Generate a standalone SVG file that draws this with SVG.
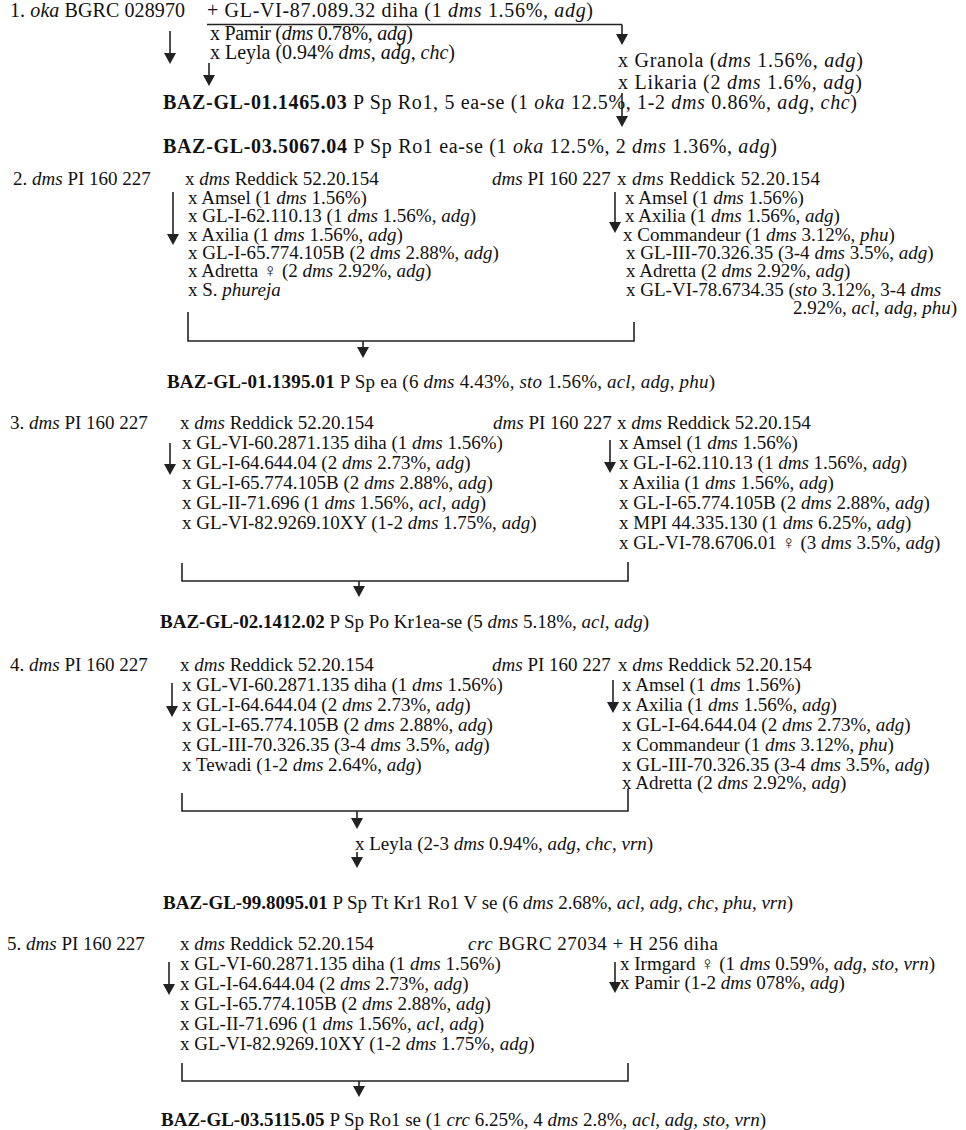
<svg xmlns="http://www.w3.org/2000/svg" width="966" height="1130" viewBox="0 0 966 1130">
<style>
.t{font-family:"Liberation Serif","DejaVu Serif",serif;font-size:19px;fill:#111}
.s1{font-size:20px}
.i{font-style:italic}
.b{font-weight:bold}
.c{stroke:#222;stroke-width:1.6;fill:none}
.a{stroke:#222;stroke-width:1.6;fill:none;marker-end:url(#ah)}
</style>
<defs>
<marker id="ah" markerUnits="userSpaceOnUse" markerWidth="12" markerHeight="12" viewBox="0 0 11 12" refX="1" refY="6" orient="auto"><path d="M0,0 L11,6 L0,12 z" fill="#222"/></marker>
</defs>
<rect width="966" height="1130" fill="#fff"/>
<g id="connectors">
<line class="c" x1="207" y1="24.5" x2="622" y2="24.5"/>
<line class="a" x1="622" y1="24.5" x2="622" y2="35"/>
<line class="a" x1="170" y1="31" x2="170" y2="54"/>
<line class="a" x1="209" y1="63" x2="209" y2="76"/>
<line class="a" x1="622" y1="93" x2="622" y2="117"/>
<line class="a" x1="173" y1="192" x2="173" y2="235"/>
<line class="a" x1="615" y1="192" x2="615" y2="223"/>
<polyline class="c" points="188,312 188,341 634,341 634,322"/>
<line class="a" x1="363" y1="341" x2="363" y2="348"/>
<line class="a" x1="170" y1="443" x2="170" y2="465"/>
<line class="a" x1="610" y1="440" x2="610" y2="463"/>
<polyline class="c" points="182,563 182,581 628,581 628,562"/>
<line class="a" x1="359" y1="581" x2="359" y2="587"/>
<line class="a" x1="172" y1="683" x2="172" y2="707"/>
<line class="a" x1="613" y1="680" x2="613" y2="703"/>
<polyline class="c" points="182,793 182,811 628,811 628,789"/>
<line class="a" x1="357" y1="811" x2="357" y2="819"/>
<line class="a" x1="357" y1="852" x2="357" y2="858"/>
<line class="a" x1="169" y1="962" x2="169" y2="985"/>
<line class="a" x1="615" y1="962" x2="615" y2="983"/>
<polyline class="c" points="182,1063 182,1081 628,1081 628,1063"/>
<line class="a" x1="359" y1="1081" x2="359" y2="1087"/>
</g>

<g id="s1-parent1"><text class="t s1" x="10" y="17" textLength="175">1. <tspan class="i">oka</tspan> BGRC 028970</text></g>
<g id="s1-parent2"><text class="t s1" x="207" y="17" textLength="386">+ GL-VI-87.089.32 diha (1 <tspan class="i">dms</tspan> 1.56%, <tspan class="i">adg</tspan>)</text></g>
<g id="s1-left">
<text class="t s1" x="210" y="40" textLength="203">x Pamir (<tspan class="i">dms</tspan> 0.78%, <tspan class="i">adg</tspan>)</text>
<text class="t s1" x="210" y="59" textLength="245">x Leyla (0.94% <tspan class="i">dms</tspan>, <tspan class="i">adg</tspan>, <tspan class="i">chc</tspan>)</text>
</g>
<g id="s1-right">
<text class="t s1" x="618" y="67" textLength="245">x Granola (<tspan class="i">dms</tspan> 1.56%, <tspan class="i">adg</tspan>)</text>
<text class="t s1" x="618" y="89" textLength="244">x Likaria (2 <tspan class="i">dms</tspan> 1.6%, <tspan class="i">adg</tspan>)</text>
</g>
<g id="s1-result1"><text class="t s1" x="163" y="109" textLength="694"><tspan class="b">BAZ-GL-01.1465.03</tspan> P Sp Ro1, 5 ea-se (1 <tspan class="i">oka</tspan> 12.5%, 1-2 <tspan class="i">dms</tspan> 0.86%, <tspan class="i">adg</tspan>, <tspan class="i">chc</tspan>)</text></g>
<g id="s1-result2"><text class="t s1" x="163" y="153" textLength="614"><tspan class="b">BAZ-GL-03.5067.04</tspan> P Sp Ro1 ea-se (1 <tspan class="i">oka</tspan> 12.5%, 2 <tspan class="i">dms</tspan> 1.36%, <tspan class="i">adg</tspan>)</text></g>

<g id="s2-left">
<text class="t" x="13" y="185">2. <tspan class="i">dms</tspan> PI 160 227</text>
<text class="t" x="185" y="185">x <tspan class="i">dms</tspan> Reddick 52.20.154</text>
<text class="t" x="188" y="204">x Amsel (1 <tspan class="i">dms</tspan> 1.56%)</text>
<text class="t" x="188" y="222">x GL-I-62.110.13 (1 <tspan class="i">dms</tspan> 1.56%, <tspan class="i">adg</tspan>)</text>
<text class="t" x="188" y="241">x Axilia (1 <tspan class="i">dms</tspan> 1.56%, <tspan class="i">adg</tspan>)</text>
<text class="t" x="188" y="259">x GL-I-65.774.105B (2 <tspan class="i">dms</tspan> 2.88%, <tspan class="i">adg</tspan>)</text>
<text class="t" x="188" y="277">x Adretta ♀ (2 <tspan class="i">dms</tspan> 2.92%, <tspan class="i">adg</tspan>)</text>
<text class="t" x="188" y="296">x S. <tspan class="i">phureja</tspan></text>
</g>
<g id="s2-right">
<text class="t" x="492" y="185"><tspan class="i">dms</tspan> PI 160 227</text>
<text class="t" x="617" y="185" textLength="203">x <tspan class="i">dms</tspan> Reddick 52.20.154</text>
<text class="t" x="625" y="204">x Amsel (1 <tspan class="i">dms</tspan> 1.56%)</text>
<text class="t" x="625" y="222">x Axilia (1 <tspan class="i">dms</tspan> 1.56%, <tspan class="i">adg</tspan>)</text>
<text class="t" x="623" y="241">x Commandeur (1 <tspan class="i">dms</tspan> 3.12%, <tspan class="i">phu</tspan>)</text>
<text class="t" x="626" y="259">x GL-III-70.326.35 (3-4 <tspan class="i">dms</tspan> 3.5%, <tspan class="i">adg</tspan>)</text>
<text class="t" x="626" y="277">x Adretta (2 <tspan class="i">dms</tspan> 2.92%, <tspan class="i">adg</tspan>)</text>
<text class="t" x="626" y="296">x GL-VI-78.6734.35 (<tspan class="i">sto</tspan> 3.12%, 3-4 <tspan class="i">dms</tspan></text>
<text class="t" x="793" y="314">2.92%, <tspan class="i">acl</tspan>, <tspan class="i">adg</tspan>, <tspan class="i">phu</tspan>)</text>
</g>
<g id="s2-result"><text class="t" x="167" y="388" textLength="548"><tspan class="b">BAZ-GL-01.1395.01</tspan> P Sp ea (6 <tspan class="i">dms</tspan> 4.43%, <tspan class="i">sto</tspan> 1.56%, <tspan class="i">acl</tspan>, <tspan class="i">adg</tspan>, <tspan class="i">phu</tspan>)</text></g>

<g id="s3-left">
<text class="t" x="10" y="429">3. <tspan class="i">dms</tspan> PI 160 227</text>
<text class="t" x="180" y="429">x <tspan class="i">dms</tspan> Reddick 52.20.154</text>
<text class="t" x="182" y="449">x GL-VI-60.2871.135 diha (1 <tspan class="i">dms</tspan> 1.56%)</text>
<text class="t" x="182" y="469">x GL-I-64.644.04 (2 <tspan class="i">dms</tspan> 2.73%, <tspan class="i">adg</tspan>)</text>
<text class="t" x="182" y="489">x GL-I-65.774.105B (2 <tspan class="i">dms</tspan> 2.88%, <tspan class="i">adg</tspan>)</text>
<text class="t" x="182" y="509">x GL-II-71.696 (1 <tspan class="i">dms</tspan> 1.56%, <tspan class="i">acl</tspan>, <tspan class="i">adg</tspan>)</text>
<text class="t" x="182" y="529">x GL-VI-82.9269.10XY (1-2 <tspan class="i">dms</tspan> 1.75%, <tspan class="i">adg</tspan>)</text>
</g>
<g id="s3-right">
<text class="t" x="493" y="429"><tspan class="i">dms</tspan> PI 160 227</text>
<text class="t" x="617" y="429">x <tspan class="i">dms</tspan> Reddick 52.20.154</text>
<text class="t" x="619" y="449">x Amsel (1 <tspan class="i">dms</tspan> 1.56%)</text>
<text class="t" x="619" y="469">x GL-I-62.110.13 (1 <tspan class="i">dms</tspan> 1.56%, <tspan class="i">adg</tspan>)</text>
<text class="t" x="619" y="489">x Axilia (1 <tspan class="i">dms</tspan> 1.56%, <tspan class="i">adg</tspan>)</text>
<text class="t" x="619" y="509">x GL-I-65.774.105B (2 <tspan class="i">dms</tspan> 2.88%, <tspan class="i">adg</tspan>)</text>
<text class="t" x="619" y="529">x MPI 44.335.130 (1 <tspan class="i">dms</tspan> 6.25%, <tspan class="i">adg</tspan>)</text>
<text class="t" x="619" y="549">x GL-VI-78.6706.01 ♀ (3 <tspan class="i">dms</tspan> 3.5%, <tspan class="i">adg</tspan>)</text>
</g>
<g id="s3-result"><text class="t" x="160" y="628"><tspan class="b">BAZ-GL-02.1412.02</tspan> P Sp Po Kr1ea-se (5 <tspan class="i">dms</tspan> 5.18%, <tspan class="i">acl</tspan>, <tspan class="i">adg</tspan>)</text></g>

<g id="s4-left">
<text class="t" x="10" y="671">4. <tspan class="i">dms</tspan> PI 160 227</text>
<text class="t" x="180" y="671">x <tspan class="i">dms</tspan> Reddick 52.20.154</text>
<text class="t" x="182" y="691">x GL-VI-60.2871.135 diha (1 <tspan class="i">dms</tspan> 1.56%)</text>
<text class="t" x="182" y="711">x GL-I-64.644.04 (2 <tspan class="i">dms</tspan> 2.73%, <tspan class="i">adg</tspan>)</text>
<text class="t" x="182" y="731">x GL-I-65.774.105B (2 <tspan class="i">dms</tspan> 2.88%, <tspan class="i">adg</tspan>)</text>
<text class="t" x="182" y="751">x GL-III-70.326.35 (3-4 <tspan class="i">dms</tspan> 3.5%, <tspan class="i">adg</tspan>)</text>
<text class="t" x="182" y="771">x Tewadi (1-2 <tspan class="i">dms</tspan> 2.64%, <tspan class="i">adg</tspan>)</text>
</g>
<g id="s4-right">
<text class="t" x="492" y="671"><tspan class="i">dms</tspan> PI 160 227</text>
<text class="t" x="618" y="671">x <tspan class="i">dms</tspan> Reddick 52.20.154</text>
<text class="t" x="622" y="691">x Amsel (1 <tspan class="i">dms</tspan> 1.56%)</text>
<text class="t" x="622" y="711">x Axilia (1 <tspan class="i">dms</tspan> 1.56%, <tspan class="i">adg</tspan>)</text>
<text class="t" x="622" y="731">x GL-I-64.644.04 (2 <tspan class="i">dms</tspan> 2.73%, <tspan class="i">adg</tspan>)</text>
<text class="t" x="622" y="751">x Commandeur (1 <tspan class="i">dms</tspan> 3.12%, <tspan class="i">phu</tspan>)</text>
<text class="t" x="622" y="771">x GL-III-70.326.35 (3-4 <tspan class="i">dms</tspan> 3.5%, <tspan class="i">adg</tspan>)</text>
<text class="t" x="622" y="789">x Adretta (2 <tspan class="i">dms</tspan> 2.92%, <tspan class="i">adg</tspan>)</text>
</g>
<g id="s4-leyla"><text class="t" x="355" y="850">x Leyla (2-3 <tspan class="i">dms</tspan> 0.94%, <tspan class="i">adg</tspan>, <tspan class="i">chc</tspan>, <tspan class="i">vrn</tspan>)</text></g>
<g id="s4-result"><text class="t" x="163" y="909"><tspan class="b">BAZ-GL-99.8095.01</tspan> P Sp Tt Kr1 Ro1 V se (6 <tspan class="i">dms</tspan> 2.68%, <tspan class="i">acl</tspan>, <tspan class="i">adg</tspan>, <tspan class="i">chc</tspan>, <tspan class="i">phu</tspan>, <tspan class="i">vrn</tspan>)</text></g>

<g id="s5-left">
<text class="t" x="7" y="950">5. <tspan class="i">dms</tspan> PI 160 227</text>
<text class="t" x="180" y="950">x <tspan class="i">dms</tspan> Reddick 52.20.154</text>
<text class="t" x="180" y="970">x GL-VI-60.2871.135 diha (1 <tspan class="i">dms</tspan> 1.56%)</text>
<text class="t" x="180" y="990">x GL-I-64.644.04 (2 <tspan class="i">dms</tspan> 2.73%, <tspan class="i">adg</tspan>)</text>
<text class="t" x="180" y="1010">x GL-I-65.774.105B (2 <tspan class="i">dms</tspan> 2.88%, <tspan class="i">adg</tspan>)</text>
<text class="t" x="180" y="1030">x GL-II-71.696 (1 <tspan class="i">dms</tspan> 1.56%, <tspan class="i">acl</tspan>, <tspan class="i">adg</tspan>)</text>
<text class="t" x="180" y="1050">x GL-VI-82.9269.10XY (1-2 <tspan class="i">dms</tspan> 1.75%, <tspan class="i">adg</tspan>)</text>
</g>
<g id="s5-right">
<text class="t" x="468" y="950" textLength="250"><tspan class="i">crc</tspan> BGRC 27034 + H 256 diha</text>
<text class="t" x="620" y="970">x Irmgard ♀ (1 <tspan class="i">dms</tspan> 0.59%, <tspan class="i">adg</tspan>, <tspan class="i">sto</tspan>, <tspan class="i">vrn</tspan>)</text>
<text class="t" x="620" y="989">x Pamir (1-2 <tspan class="i">dms</tspan> 078%, <tspan class="i">adg</tspan>)</text>
</g>
<g id="s5-result"><text class="t" x="161" y="1126"><tspan class="b">BAZ-GL-03.5115.05</tspan> P Sp Ro1 se (1 <tspan class="i">crc</tspan> 6.25%, 4 <tspan class="i">dms</tspan> 2.8%, <tspan class="i">acl</tspan>, <tspan class="i">adg</tspan>, <tspan class="i">sto</tspan>, <tspan class="i">vrn</tspan>)</text></g>
</svg>
